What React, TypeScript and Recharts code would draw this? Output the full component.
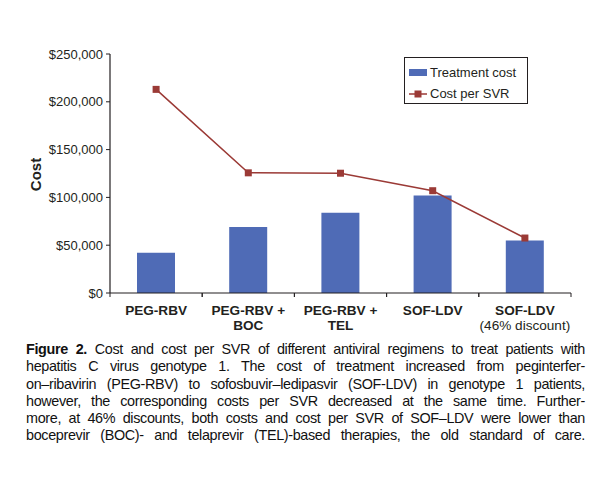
import React from 'react';
import { ComposedChart, Bar, Line, XAxis, YAxis, Legend } from 'recharts';

const categories = ['PEG-RBV', 'PEG-RBV +|BOC', 'PEG-RBV +|TEL', 'SOF-LDV', 'SOF-LDV|(46% discount)'];
const treatmentCost = [42000, 69000, 84000, 102000, 55000];
const costPerSVR = [213000, 125700, 125300, 107000, 57500];
const yTicks = [0, 50000, 100000, 150000, 200000, 250000];

const captionLines = [
  'Cost and cost per SVR of different antiviral regimens to treat patients with',
  'hepatitis C virus genotype 1. The cost of treatment increased from peginterfer-',
  'on–ribavirin (PEG-RBV) to sofosbuvir–ledipasvir (SOF-LDV) in genotype 1 patients,',
  'however, the corresponding costs per SVR decreased at the same time. Further-',
  'more, at 46% discounts, both costs and cost per SVR of SOF–LDV were lower than',
  'boceprevir (BOC)- and telaprevir (TEL)-based therapies, the old standard of care.',
];

const data = categories.map((c, i) => ({
  name: c,
  cost: treatmentCost[i],
  svr: costPerSVR[i],
}));

const FONT = '"Liberation Sans", Arial, Helvetica, sans-serif';
const BAR = '#4f6bb6';
const LINE = '#9b3a36';

const fmt = (v: number) => '$' + v.toLocaleString('en-US');

const XTick = (props: any) => {
  const { x, y, payload } = props;
  const half = payload && payload.offset ? payload.offset : 46;
  const lines = String(payload.value).split('|');
  return (
    <g>
      <line x1={x - half} x2={x - half} y1={y} y2={y + 4} stroke="#231f20" strokeWidth={1} />
      <line x1={x + half} x2={x + half} y1={y} y2={y + 4} stroke="#231f20" strokeWidth={1} />
      {lines.map((l, i) => (
        <text
          key={i}
          x={x}
          y={y + 22 + i * 14.5}
          textAnchor="middle"
          fontFamily={FONT}
          fontSize={13.6}
          fontWeight={l.startsWith('(') ? 400 : 700}
          fill="#231f20"
        >
          {l}
        </text>
      ))}
    </g>
  );
};

const LegendBox = () => (
  <div
    style={{
      width: 122,
      height: 45,
      border: '1px solid #231f20',
      fontFamily: FONT,
      fontSize: 13,
      color: '#231f20',
      position: 'relative',
      background: '#fff',
    }}
  >
    <div style={{ position: 'absolute', left: 4, top: 7, display: 'flex', alignItems: 'center' }}>
      <div style={{ width: 18, height: 7, background: BAR }} />
      <span style={{ marginLeft: 3, lineHeight: '15px' }}>Treatment cost</span>
    </div>
    <div style={{ position: 'absolute', left: 4, top: 28, display: 'flex', alignItems: 'center' }}>
      <svg width={18} height={15}>
        <line x1={0} x2={18} y1={8} y2={8} stroke={LINE} strokeWidth={1.5} />
        <rect x={5.5} y={4.5} width={7} height={7} fill={LINE} />
      </svg>
      <span style={{ marginLeft: 3, lineHeight: '15px' }}>Cost per SVR</span>
    </div>
  </div>
);

const SquareDot = (props: any) => {
  const { cx, cy } = props;
  if (cx == null || cy == null) return null;
  return <rect x={cx - 3.5} y={cy - 3.5} width={7} height={7} fill={LINE} />;
};

const YLabel = (props: any) => {
  const vb = props.viewBox || {};
  const cx = (vb.x || 0) + 27;
  const cy = (vb.y || 0) + (vb.height || 0) / 2 + 1;
  return (
    <text
      x={cx}
      y={cy}
      transform={`rotate(-90, ${cx}, ${cy})`}
      textAnchor="middle"
      dominantBaseline="central"
      fontFamily={FONT}
      fontSize={15}
      fontWeight={700}
      fill="#231f20"
    >
      Cost
    </text>
  );
};

export default function App() {
  return (
    <div style={{ position: 'relative', width: 596, height: 465, background: '#fff' }}>
      <ComposedChart
        width={596}
        height={330}
        data={data}
        margin={{ top: 46, right: 33, bottom: 0, left: 0 }}
      >
        <XAxis
          dataKey="name"
          tick={<XTick />}
          tickLine={false}
          tickSize={0}
          tickMargin={0}
          height={45}
          interval={0}
          axisLine={{ stroke: '#231f20', strokeWidth: 1.2 }}
        />
        <YAxis
          width={102}
          domain={[0, 250000]}
          ticks={yTicks}
          tickFormatter={fmt}
          tickSize={4}
          tickMargin={3}
          interval={0}
          tick={{ fontFamily: FONT, fontSize: 13, fill: '#231f20' }}
          tickLine={{ stroke: '#231f20' }}
          axisLine={{ stroke: '#231f20', strokeWidth: 1.2 }}
          label={<YLabel />}
        />
        <Legend
          content={<LegendBox />}
          layout="vertical"
          align="center"
          verticalAlign="middle"
          wrapperStyle={{ position: 'absolute', left: 396, top: 49, width: 124, height: 47 }}
        />
        <Bar dataKey="cost" fill={BAR} barSize={38} isAnimationActive={false} />
        <Line
          dataKey="svr"
          stroke={LINE}
          strokeWidth={1.5}
          dot={<SquareDot />}
          activeDot={false}
          isAnimationActive={false}
        />
      </ComposedChart>
      <div
        style={{
          position: 'absolute',
          left: 18,
          top: 333,
          width: 559,
          fontFamily: FONT,
          fontSize: 14.4,
          letterSpacing: '-0.35px',
          lineHeight: '17.3px',
          color: '#111',
        }}
      >
        {captionLines.map((l, i) => (
          <div key={i} style={{ whiteSpace: 'nowrap', textAlign: 'justify', textAlignLast: 'justify' }}>
            {i === 0 ? <b>Figure 2. </b> : null}
            {l}
          </div>
        ))}
      </div>
    </div>
  );
}
